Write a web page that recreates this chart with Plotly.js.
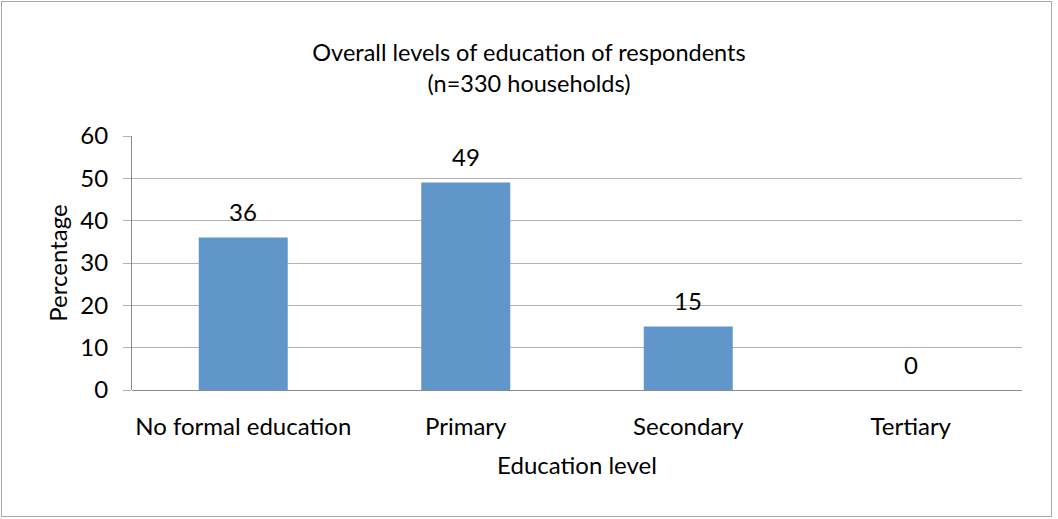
<!DOCTYPE html>
<html>
<head>
<meta charset="utf-8">
<script src="https://cdn.plot.ly/plotly-3.0.1.min.js"></script>
<style>
  html, body { margin: 0; padding: 0; background: #ffffff; }
  #frame { position: absolute; left: 1px; top: 1px; width: 1049px; height: 514px; border: 1px solid #a8a8a8; pointer-events: none; }
  #chart { position: absolute; left: 0; top: 0; width: 1058px; height: 519px; }
</style>
</head>
<body>
<div id="chart"></div>
<div id="frame"></div>
<script>
const categories = ["No formal education", "Primary", "Secondary", "Tertiary"];
const percentages = [36, 49, 15, 0];
const yTicks = [0, 10, 20, 30, 40, 50, 60];
const chartTitle = "Overall levels of education of respondents<br>(n=330 households)";
const xTitle = "Education level";
const yTitle = "Percentage";

const FONT = "Lato, 'Open Sans', sans-serif";
const FS = 24;

const trace = {
  type: "bar",
  x: categories,
  y: percentages,
  marker: { color: "#6196ca", line: { width: 0 } },
  hoverinfo: "x+y"
};

const labels = categories.map((c, i) => ({
  x: c,
  y: percentages[i],
  xref: "x",
  yref: "y",
  text: String(percentages[i]),
  showarrow: false,
  yanchor: "middle",
  yshift: 26,
  font: { family: FONT, size: FS, color: "#000000" }
}));

const layout = {
  width: 1058,
  height: 519,
  margin: { l: 132, r: 36, t: 136, b: 129 },
  paper_bgcolor: "#ffffff",
  plot_bgcolor: "#ffffff",
  bargap: 0.6,
  showlegend: false,
  font: { family: FONT, size: FS, color: "#000000" },
  annotations: labels,
  title: {
    text: chartTitle,
    x: 0.5,
    xref: "container",
    xanchor: "center",
    y: 1 - 61 / 519,
    yref: "container",
    yanchor: "top",
    font: { family: FONT, size: 23.5, color: "#000000" }
  },
  xaxis: {
    type: "category",
    showgrid: false,
    showline: false,
    ticks: "",
    ticklabelstandoff: 20,
    tickfont: { family: FONT, size: FS, color: "#000000" },
    title: { text: xTitle, font: { family: FONT, size: FS, color: "#000000" }, standoff: 18 },
    automargin: false
  },
  yaxis: {
    range: [0, 60],
    tickvals: yTicks,
    ticktext: yTicks.map(String),
    showgrid: true,
    gridcolor: "#b3b3b3",
    gridwidth: 1,
    showline: true,
    linecolor: "#8c8c8c",
    linewidth: 1,
    ticks: "outside",
    ticklen: 8,
    tickcolor: "#b3b3b3",
    zeroline: true,
    zerolinecolor: "#8c8c8c",
    zerolinewidth: 1,
    ticklabelstandoff: 10,
    tickfont: { family: FONT, size: FS, color: "#000000" },
    title: { text: yTitle, font: { family: FONT, size: FS, color: "#000000" }, standoff: 5 },
    automargin: false
  }
};

Plotly.newPlot("chart", [trace], layout, { displayModeBar: false, staticPlot: true });
</script>
</body>
</html>
